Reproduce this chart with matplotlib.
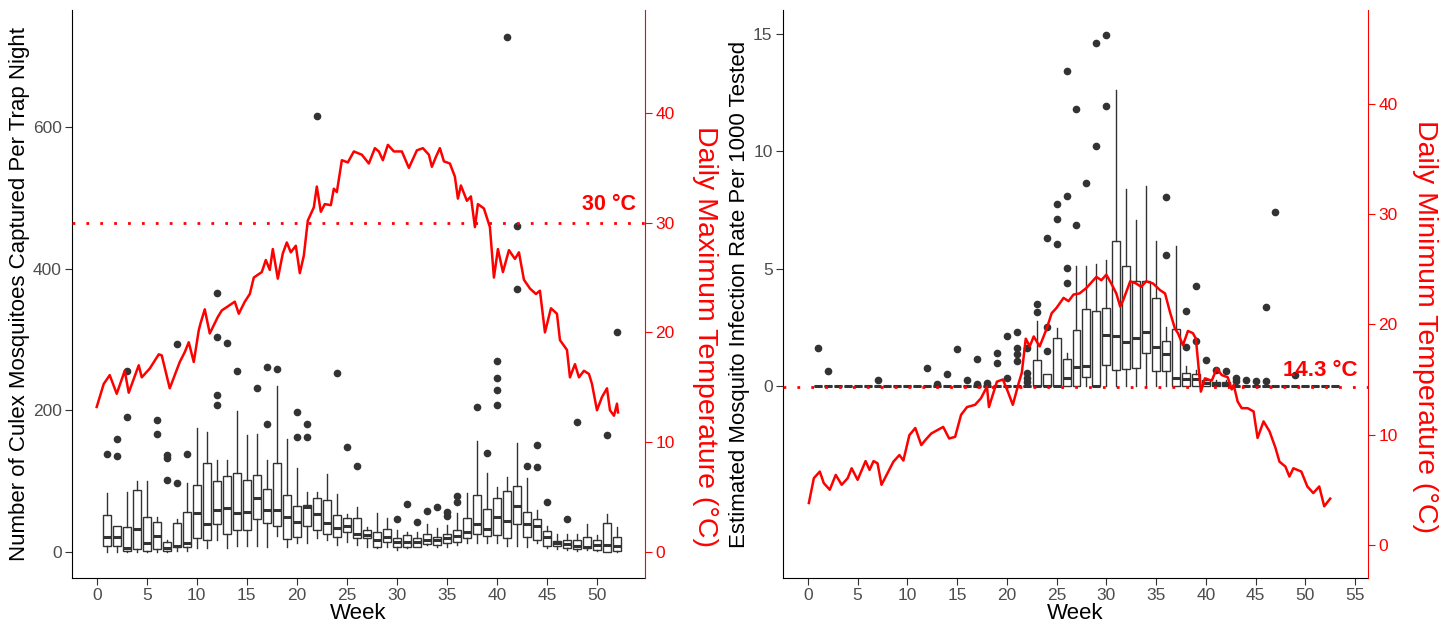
import matplotlib
matplotlib.use("Agg")
from matplotlib import pyplot as plt

plt.rcParams["font.family"] = ["Liberation Sans", "DejaVu Sans"]

RED = "#FF0000"
GREY = "#333333"
TICK_GREY = "#4D4D4D"

# ---- left panel: Culex captured per trap night, weekly boxes (weeks 1-52)
count_weeks = list(range(1, 53))
count_q1 = [9, 9, 1.4, 3.8, 1.4, 3.8, 1.4, 7.5, 7.5,
            20, 17, 39, 26, 31, 31, 46,
            41, 37, 19, 21, 37, 31, 25, 21, 28, 20, 19.7,
            7.5, 14.5, 7.5, 7.5, 7.5, 10.8, 9.9, 13, 14, 19.7,
            26, 22, 24, 19.7, 40, 21.6, 17.6, 8.5, 8.5, 6, 3.8, 6, 3, 0.5, 1.4]
count_med = [21.6, 21.6, 6, 32, 12, 22.5, 5, 8.5, 13,
             54.5, 39, 59, 62, 55, 57, 76,
             59, 59, 50, 42, 63, 53, 41, 34, 36.6, 25, 24,
             17.6, 21.6, 14, 14, 14, 17.6, 17.6, 20, 23, 28.6,
             40, 33, 49, 44, 65, 39.6, 37, 21.6, 12, 11, 9, 7.5, 10, 10, 9]
count_q3 = [52, 36.6, 35, 87, 50, 42.7, 14.5, 41, 57,
            94, 126, 100, 107, 112, 102, 108,
            89, 125, 80, 65, 67, 75.6, 74, 52, 47.6, 47.6, 31,
            28.6, 31.8, 20, 23.5, 20, 26, 21.6, 25, 31, 47.6,
            80, 61, 76, 86, 93, 56.6, 46, 29.6, 15.5, 17, 17.6, 21.6, 17.6, 41, 20.6]
count_lo = [0.5, 0.5, 0.5, 0, 0.5, 0.5, 0.5, 1, 2,
            6, 6, 17, 5, 8, 8, 8,
            7.5, 22, 7.5, 13, 12, 19.7, 17, 10, 14, 10, 7.5,
            5, 7.5, 3, 5, 7.5, 10, 7.5, 7.5, 10, 12,
            12, 12, 12, 8.5, 8, 7.5, 12, 5, 4, 3, 1, 3, 1, 0, 0.5]
count_hi = [82.6, 37, 85, 100, 100, 49, 17, 46, 96.7,
            175.6, 169.5, 130.5, 130, 199, 165, 167,
            130.5, 235, 160, 118, 85, 85, 110, 82, 54, 63, 35,
            55.7, 48.5, 31, 28.6, 28.6, 39, 34, 37.6, 55, 83.6,
            157, 111, 92, 106, 154, 104, 59, 36.6, 26, 26, 26, 39.6, 24, 54, 34.7]
count_fliers = {
    1: [139], 2: [159, 135], 3: [256, 191], 6: [186, 167], 7: [137, 132, 101],
    8: [294, 97], 9: [138], 12: [366, 303, 221, 208], 13: [295], 14: [256],
    16: [232], 17: [261, 180], 18: [258], 20: [197, 162], 21: [180, 162],
    22: [615], 24: [253], 25: [148], 26: [121], 30: [46], 31: [68], 32: [42],
    33: [58], 34: [64], 35: [57, 51], 36: [79, 71], 38: [205], 39: [140],
    40: [269, 245, 229, 208], 41: [727], 42: [460, 371], 43: [122],
    44: [151, 120], 45: [70], 47: [47], 48: [183], 51: [165], 52: [310],
}

# daily maximum temperature (week, degC)
tmax_week = [0.0, 0.7, 1.3, 2.0, 2.8, 3.2, 4.2, 4.5, 5.3, 6.2, 6.5, 7.3, 8.3, 8.8,
             9.2, 9.7, 10.2, 10.4, 10.8, 11.3, 12.1, 12.5, 13.8, 14.2, 14.8, 15.3,
             15.7, 16.5, 16.9, 17.3, 17.6, 18.1, 18.6, 19.0, 19.4, 19.9, 20.3, 20.7,
             21.1, 21.7, 22.0, 22.4, 22.8, 23.4, 23.7, 24.0, 24.5, 25.1, 25.7, 26.5,
             27.2, 27.8, 28.2, 28.6, 29.1, 29.7, 30.5, 31.2, 32.0, 32.6, 33.2, 33.5,
             33.9, 34.3, 34.7, 35.3, 35.8, 36.1, 36.4, 37.0, 37.4, 37.8, 38.1, 38.7,
             39.3, 39.7, 40.1, 40.6, 41.2, 41.8, 42.2, 42.7, 43.3, 43.9, 44.3, 44.8,
             45.4, 46.0, 46.3, 47.0, 47.3, 47.8, 48.2, 48.7, 49.2, 49.5, 50.0, 50.5,
             51.0, 51.3, 51.7, 52.0, 52.1]
tmax_val = [13.2, 15.3, 16.1, 14.4, 16.5, 14.5, 17.0, 15.9, 16.7, 18.0, 17.9, 14.9,
            17.3, 18.2, 19.1, 17.3, 20.2, 20.9, 22.1, 19.9, 21.4, 22.0, 22.8, 21.7,
            22.8, 23.5, 25.0, 25.5, 26.6, 25.7, 27.6, 24.9, 27.2, 28.2, 27.3, 27.9,
            25.4, 27.0, 30.2, 31.4, 33.3, 31.0, 31.7, 31.6, 33.1, 32.8, 35.7, 35.5,
            36.5, 36.2, 35.4, 36.8, 36.5, 35.7, 37.1, 36.5, 36.5, 35.0, 36.6, 36.8,
            36.2, 35.1, 36.0, 36.8, 35.6, 35.4, 34.2, 32.2, 33.4, 32.0, 32.4, 29.6,
            31.7, 31.3, 29.6, 25.0, 27.6, 25.5, 27.5, 26.7, 27.3, 24.8, 24.0, 23.5,
            23.8, 20.0, 22.2, 21.7, 19.3, 18.4, 15.9, 17.1, 15.9, 16.5, 16.2, 15.3,
            12.9, 14.1, 14.9, 12.9, 12.4, 13.5, 12.7]

# ---- right panel: infection rate per 1000 tested (weeks 1-53)
rate_weeks = list(range(1, 54))
rate_q1 = [0] * 22 + [0, 0, 0, 0, 0, 0.38, 0, 0.89, 0.68, 0.74, 0.75, 1.42, 0.64,
                      0.62, 0, 0, 0, 0, 0, 0] + [0] * 11
rate_med = [0] * 22 + [0, 0, 0, 0.34, 0.79, 0.87, 0, 2.17, 2.13, 1.87, 2.05, 2.31,
                       1.65, 1.36, 0.32, 0.28, 0.28, 0.12, 0.08, 0.08] + [0] * 11
rate_q3 = [0] * 22 + [1.1, 0.51, 2.06, 1.15, 2.37, 3.28, 3.2, 3.3, 6.18, 5.1, 4.45,
                      4.46, 3.73, 1.92, 2.44, 0.57, 0.51, 0.26, 0.18, 0.18] + [0] * 11
rate_lo = [0] * 53
rate_hi = [0] * 22 + [2.78, 0.51, 2.45, 1.4, 5.1, 5.1, 5.18, 5.36, 12.6, 8.37, 7.06,
                      8.53, 6.17, 2.51, 5.97, 0.84, 0.68, 0.35, 0.25, 0.25] + [0] * 11
rate_fliers = {
    1: [1.6], 2: [0.65], 7: [0.26], 12: [0.78], 13: [0.08], 14: [0.5], 15: [1.57],
    16: [0.26], 17: [1.17, 0.09], 18: [0.12], 19: [1.39, 0.96], 20: [2.13, 0.35],
    21: [2.31, 1.6, 1.36, 1.06], 22: [1.6, 0.57, 0.36, 0.16], 23: [3.49, 3.13],
    24: [6.28, 2.52, 1.49], 25: [7.73, 7.11, 6.04], 26: [13.4, 8.09, 5.03, 4.4],
    27: [11.8, 6.87], 28: [8.63], 29: [14.6, 10.2], 30: [14.95, 11.9],
    36: [8.06, 5.57], 38: [3.2, 1.67], 39: [4.27, 1.93], 40: [1.1], 41: [0.68],
    42: [0.64], 43: [0.34, 0.2], 44: [0.26], 45: [0.21], 46: [3.35, 0.22],
    47: [7.4], 49: [0.47],
}

# daily minimum temperature (week, degC)
tmin_week = [0.1, 0.6, 1.2, 1.6, 2.2, 2.8, 3.4, 4.0, 4.4, 5.0, 5.8, 6.2, 6.6, 7.0,
             7.4, 8.0, 8.6, 9.2, 9.6, 10.2, 10.8, 11.4, 11.8, 12.4, 13.0, 13.6, 14.2,
             14.8, 15.4, 16.0, 16.8, 17.4, 18.0, 18.2, 19.0, 19.6, 20.1, 20.6, 21.2,
             21.5, 21.9, 22.3, 22.7, 23.3, 24.0, 24.5, 25.0, 25.7, 26.2, 26.7, 27.3,
             28.0, 28.3, 29.0, 29.5, 30.0, 30.5, 31.0, 31.4, 31.7, 32.4, 33.0, 33.5,
             34.0, 34.7, 35.4, 35.9, 36.4, 36.9, 37.2, 37.7, 38.2, 38.7, 39.0, 39.5,
             39.9, 40.6, 41.1, 41.6, 42.2, 42.6, 42.8, 43.2, 43.6, 44.2, 44.8, 45.2,
             45.8, 46.4, 47.0, 47.4, 48.0, 48.4, 48.8, 49.6, 50.2, 50.8, 51.4, 51.9,
             52.5]
tmin_val = [3.8, 6.05, 6.65, 5.6, 5.0, 6.35, 5.45, 6.05, 6.95, 5.9, 7.6, 6.8, 7.6,
            7.4, 5.45, 6.5, 7.55, 8.15, 7.65, 9.95, 10.6, 9.05, 9.5, 10.1, 10.4, 10.7,
            9.65, 9.8, 11.8, 12.5, 12.7, 13.3, 14.35, 12.5, 14.8, 15.0, 13.9, 12.7,
            14.7, 15.6, 18.7, 18.0, 18.9, 18.0, 19.6, 21.0, 21.5, 22.4, 22.1, 22.7,
            22.8, 23.3, 23.6, 24.3, 24.0, 24.5, 23.7, 22.8, 21.6, 22.2, 23.9, 23.7,
            23.4, 23.9, 23.7, 23.1, 22.8, 21.1, 19.6, 19.2, 18.1, 19.4, 19.2, 18.7,
            13.9, 15.1, 14.9, 16.0, 15.4, 15.2, 14.1, 14.5, 13.0, 12.4, 12.4, 12.1,
            9.7, 11.2, 10.3, 8.8, 7.55, 7.1, 6.2, 6.95, 6.65, 5.3, 4.7, 5.3, 3.5, 4.2]


def make_stats(weeks, q1, med, q3, lo, hi, fliers):
    stats = []
    for i, w in enumerate(weeks):
        stats.append({"q1": q1[i], "med": med[i], "q3": q3[i],
                      "whislo": lo[i], "whishi": hi[i],
                      "fliers": fliers.get(w, [])})
    return stats


def draw_boxes(ax, stats, positions):
    ax.bxp(stats, positions=positions, widths=0.8, patch_artist=True,
           showcaps=False, manage_ticks=False,
           boxprops=dict(facecolor="white", edgecolor=GREY, linewidth=1.0),
           medianprops=dict(color=GREY, linewidth=2.2, solid_capstyle="butt"),
           whiskerprops=dict(color=GREY, linewidth=1.0),
           flierprops=dict(marker="o", markerfacecolor=GREY,
                           markeredgecolor=GREY, markersize=4.5))


def style_axes(ax, ax2):
    ax.spines["top"].set_visible(False)
    ax.spines["right"].set_visible(False)
    ax2.spines["top"].set_visible(False)
    ax2.spines["left"].set_visible(False)
    ax2.spines["bottom"].set_visible(False)
    ax2.spines["right"].set_color(RED)
    ax.tick_params(labelsize=12.5, labelcolor=TICK_GREY, color=GREY, length=5,
                   pad=2.5)
    ax2.tick_params(labelsize=12.5, labelcolor=RED, color=RED, length=5, pad=2.5)


fig = plt.figure(figsize=(14.49, 6.26), dpi=100)

# left panel
ax = fig.add_axes([72 / 1449, 48 / 626, 573 / 1449, 568 / 626])
draw_boxes(ax, make_stats(count_weeks, count_q1, count_med, count_q3,
                          count_lo, count_hi, count_fliers), count_weeks)
ax.set_xlim(-2.47, 54.8)
ax.set_ylim(-36.7, 765)
ax.set_xticks(range(0, 51, 5))
ax.set_yticks([0, 200, 400, 600])
ax.set_xlabel("Week", fontsize=16, labelpad=0)
ax.set_ylabel("Number of Culex Mosquitoes Captured Per Trap Night", fontsize=16,
              labelpad=2)

ax2 = ax.twinx()
ax2.plot(tmax_week, tmax_val, color=RED, linewidth=1.8)
ax2.axhline(30, color=RED, linewidth=2, linestyle=(0, (1, 4)))
ax2.text(53.9, 30.7, "30 °C", color=RED, fontsize=15.5, fontweight="bold",
         ha="right", va="bottom")
ax2.set_ylim(-2.4, 49.4)
ax2.set_yticks([0, 10, 20, 30, 40])
ax2.set_ylabel("Daily Maximum Temperature (°C)", color=RED, fontsize=20.5,
               rotation=-90, va="center")
ax2.yaxis.set_label_coords(1.105, 0.425)
style_axes(ax, ax2)

# right panel
bx = fig.add_axes([783 / 1449, 48 / 626, 585 / 1449, 568 / 626])
draw_boxes(bx, make_stats(rate_weeks, rate_q1, rate_med, rate_q3,
                          rate_lo, rate_hi, rate_fliers), rate_weeks)
bx.set_xlim(-2.5, 56.3)
bx.set_ylim(-8.17, 16.0)
bx.set_xticks(range(0, 56, 5))
bx.set_yticks([0, 5, 10, 15])
bx.set_xlabel("Week", fontsize=16, labelpad=0)
bx.set_ylabel("Estimated Mosquito Infection Rate Per 1000 Tested", fontsize=16,
              labelpad=2)

bx2 = bx.twinx()
bx2.plot(tmin_week, tmin_val, color=RED, linewidth=1.8)
bx2.axhline(14.3, color=RED, linewidth=2, linestyle=(0, (1, 4)))
bx2.text(55.2, 14.9, "14.3 °C", color=RED, fontsize=16, fontweight="bold",
         ha="right", va="bottom")
bx2.set_ylim(-3.0, 48.5)
bx2.set_yticks([0, 10, 20, 30, 40])
bx2.set_ylabel("Daily Minimum Temperature (°C)", color=RED, fontsize=20.5,
               rotation=-90, va="center")
bx2.yaxis.set_label_coords(1.097, 0.443)
style_axes(bx, bx2)

fig.savefig("out.png", dpi=100)
